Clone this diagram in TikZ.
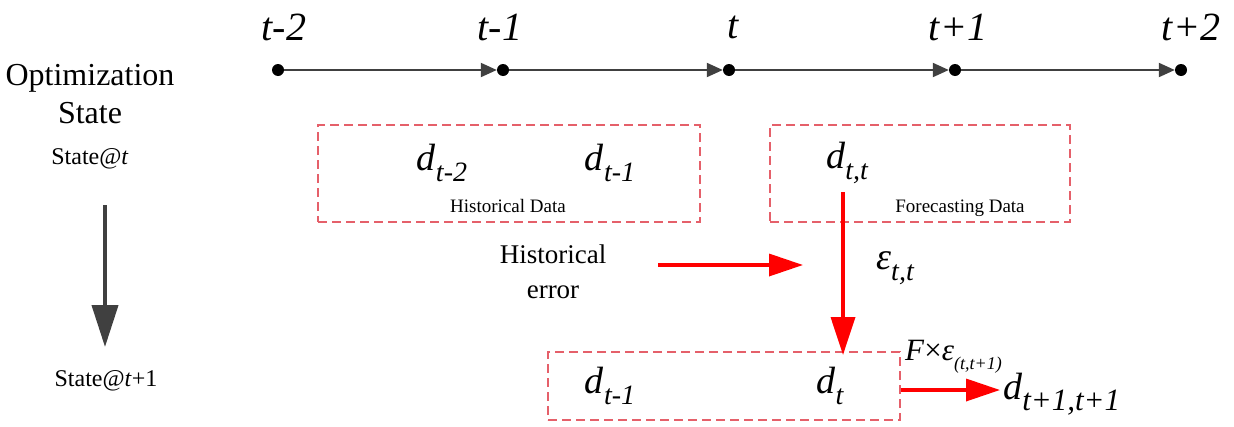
\documentclass[tikz,border=0pt]{standalone}
\usepackage{fontspec}
\setmainfont{Liberation Serif}
\usetikzlibrary{arrows.meta}
\definecolor{tlgray}{HTML}{404040}
\definecolor{boxred}{HTML}{E5606A}
\newcommand{\fs}[1]{\rmfamily\fontsize{#1}{#1}\selectfont}
\newcommand{\lowsub}[2]{\raisebox{-0.3em}{\fs{#1}\itshape #2}}
\begin{document}
\begin{tikzpicture}[x=1pt,y=-1pt,
  dot/.style={circle,fill=black,inner sep=0pt,minimum size=12pt},
  tl/.style={draw=tlgray,line width=2pt,-{Triangle[length=16pt,width=14pt]}},
  tlab/.style={font=\fs{40}\itshape,inner sep=0pt},
  dbox/.style={draw=boxred,line width=1.5pt,dash pattern=on 9pt off 5pt},
  var/.style={font=\fs{38},inner sep=0pt},
  small/.style={font=\fs{19},inner sep=0pt},
  redarr/.style={draw=red,line width=3.5pt,-{Triangle[length=38pt,width=24pt]}},
  lab/.style={inner sep=0pt,align=center}]
\useasboundingbox (0,0) rectangle (1234,426);
% timeline
\node[dot] (p1) at (278,70) {};
\node[dot] (p2) at (503,70) {};
\node[dot] (p3) at (729,70) {};
\node[dot] (p4) at (955,70) {};
\node[dot] (p5) at (1181,70) {};
\draw[tl] (p1) -- (p2);
\draw[tl] (p2) -- (p3);
\draw[tl] (p3) -- (p4);
\draw[tl] (p4) -- (p5);
\node[tlab] (l1) at (284,27) {t-2};
\node[tlab] (l2) at (500,27) {t-1};
\node[tlab] (l3) at (733,27) {t};
\node[tlab] (l4) at (958,27) {t+1};
\node[tlab] (l5) at (1191,27) {t+2};
% left labels
\node[lab,font=\fs{32}] (opt) at (90,94) {Optimization\\[6pt]State};
\node[lab,font=\fs{24}] (st) at (90,159) {State@\textit{t}};
\node[lab,font=\fs{24}] (st1) at (106,381) {State@\textit{t}+1};
\coordinate (ga) at (105,205);
\coordinate (gb) at (105,347);
\draw[draw=tlgray,line width=4pt,-{Triangle[length=42pt,width=26pt]}] (ga) -- (gb);
% boxes
\node[dbox,minimum width=382pt,minimum height=97pt] (hbox) at (509,173.5) {};
\node[dbox,minimum width=300pt,minimum height=97pt] (fbox) at (920,173.5) {};
\node[dbox,minimum width=352pt,minimum height=68pt] (bbox) at (724,386) {};
% variables
\node[var] (d2) at (442,163) {\textit{d}\lowsub{28}{t-2}};
\node[var] (d1) at (610,163) {\textit{d}\lowsub{28}{t-1}};
\node[small] (hd) at (508,206) {Historical Data};
\node[var] (dtt) at (847,163) {\textit{d}\lowsub{28}{t,t}};
\node[small] (fd) at (960,208) {Forecasting Data};
\node[var] (bd1) at (610,386) {\textit{d}\lowsub{28}{t-1}};
\node[var] (bd2) at (830,386) {\textit{d}\lowsub{28}{t}};
\node[var,anchor=west] (dn) at (1003,394) {\textit{d}\lowsub{31}{t+1,t+1}};
\node[var] (eps) at (895,268) {\textit{ε}\lowsub{28}{t,t}};
\node[inner sep=0pt,font=\fs{31},anchor=west] (fe) at (905,357) {\textit{F}×\textit{ε}\lowsub{18}{(t,t+1)}};
\node[lab,font=\fs{27}] (he) at (553,272) {Historical\\[8pt]error};
% red arrows
\coordinate (ra) at (843,192);
\coordinate (rb) at (843,355);
\draw[redarr] (ra) -- (rb);
\coordinate (ha) at (658,265);
\coordinate (hb) at (803,265);
\draw[redarr,-{Triangle[length=34pt,width=22pt]}] (ha) -- (hb);
\coordinate (ea) at (1000,390);
\draw[redarr,-{Triangle[length=34pt,width=22pt]}] (bbox.east |- ea) -- (ea);
\end{tikzpicture}
\end{document}
